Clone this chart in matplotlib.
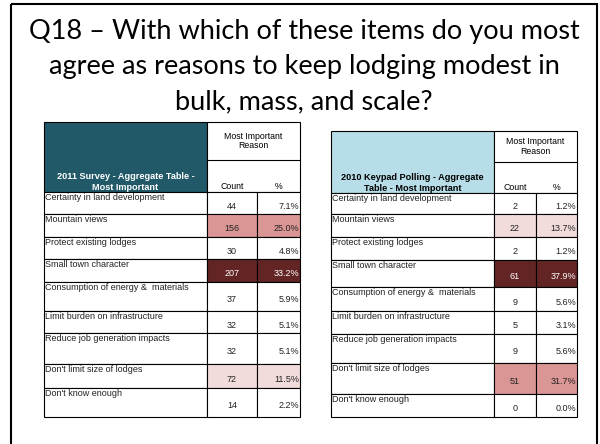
import matplotlib.pyplot as plt
from matplotlib.patches import Rectangle

# data
reasons = [
    "Certainty in land development",
    "Mountain views",
    "Protect existing lodges",
    "Small town character",
    "Consumption of energy &  materials",
    "Limit burden on infrastructure",
    "Reduce job generation impacts",
    "Don't limit size of lodges",
    "Don't know enough",
]
counts_2011 = [44, 156, 30, 207, 37, 32, 32, 72, 14]
pct_2011 = [7.1, 25.0, 4.8, 33.2, 5.9, 5.1, 5.1, 11.5, 2.2]
counts_2010 = [2, 22, 2, 61, 9, 5, 9, 51, 0]
pct_2010 = [1.2, 13.7, 1.2, 37.9, 5.6, 3.1, 5.6, 31.7, 0.0]

title_lines = [
    "Q18 \u2013 With which of these items do you most",
    "agree as reasons to keep lodging modest in",
    "bulk, mass, and scale?",
]

# highlight level per row: 0 none, 1 light, 2 medium, 3 dark
shade_2011 = [0, 2, 0, 3, 0, 0, 0, 1, 0]
shade_2010 = [0, 1, 0, 3, 0, 0, 0, 2, 0]
shade_colors = {0: "white", 1: "#F2DCDB", 2: "#DA9694", 3: "#632523"}

BODY = ["Liberation Sans", "DejaVu Sans"]


def draw_table(ax, x0, x1, x2, x3, top, sub_y, rows, header, head_fill, head_text,
               counts, pcts, shades):
    lw = 0.8
    # header block
    ax.add_patch(Rectangle((x0, top), x1 - x0, rows[0] - top, facecolor=head_fill,
                           edgecolor="black", lw=lw))
    ax.add_patch(Rectangle((x1, top), x3 - x1, rows[0] - top, facecolor="white",
                           edgecolor="black", lw=lw))
    ax.plot([x1, x3], [sub_y, sub_y], color="black", lw=lw)
    ax.text((x0 + x1) / 2, rows[0] - 0.5, header, ha="center", va="bottom",
            fontsize=6.6, fontweight="bold", color=head_text, family=BODY,
            linespacing=1.15)
    ax.text((x1 + x3) / 2, (top + sub_y) / 2, "Most Important\nReason", ha="center",
            va="center", fontsize=6.3, family=BODY, linespacing=1.05)
    ax.text((x1 + x2) / 2, rows[0] - 1, "Count", ha="center", va="bottom",
            fontsize=6.3, family=BODY)
    ax.text((x2 + x3) / 2, rows[0] - 1, "%", ha="center", va="bottom",
            fontsize=6.3, family=BODY)

    for i, label in enumerate(reasons):
        y0, y1 = rows[i], rows[i + 1]
        fill = shade_colors[shades[i]]
        ax.add_patch(Rectangle((x0, y0), x1 - x0, y1 - y0, facecolor="white",
                               edgecolor="black", lw=lw))
        ax.add_patch(Rectangle((x1, y0), x2 - x1, y1 - y0, facecolor=fill,
                               edgecolor="black", lw=lw))
        ax.add_patch(Rectangle((x2, y0), x3 - x2, y1 - y0, facecolor=fill,
                               edgecolor="black", lw=lw))
        tc = "white" if shades[i] == 3 else "#222222"
        ax.text(x0 + 1, y0 + 0.5, label, ha="left", va="top", fontsize=6.5,
                family=BODY, color="#222222")
        ym = (y0 + y1) / 2 + 3
        ax.text((x1 + x2) / 2, ym, str(counts[i]), ha="center", va="center",
                fontsize=6.5, family=BODY, color=tc)
        ax.text(x3 - 1, ym, f"{pcts[i]:.1f}%", ha="right", va="center",
                fontsize=6.5, family=BODY, color=tc)


fig = plt.figure(figsize=(6, 4.44), dpi=100)
ax = fig.add_axes([0, 0, 1, 1])
ax.set_xlim(0, 600)
ax.set_ylim(444, 0)
ax.axis("off")

# slide frame
ax.add_patch(Rectangle((11, 4), 586, 460, facecolor="none", edgecolor="black", lw=1.5))

for k, line in enumerate(title_lines):
    ax.text(304, 39 + 35 * k, line, ha="center", va="baseline", fontsize=19.5,
            family=["Lato", "DejaVu Sans"])

rows_left = [192, 214, 237, 259, 282, 311, 333, 364, 388, 417]
rows_right = [193, 214, 237, 260, 287, 311, 334, 363, 394, 417]

draw_table(ax, 44, 207, 257, 300, 122, 160, rows_left,
           "2011 Survey - Aggregate Table -\nMost Important", "#215968", "white",
           counts_2011, pct_2011, shade_2011)
draw_table(ax, 331, 494, 536, 577, 131, 162, rows_right,
           "2010 Keypad Polling - Aggregate\nTable - Most Important", "#B7DEE8", "black",
           counts_2010, pct_2010, shade_2010)

fig.savefig("out.png", dpi=100)
